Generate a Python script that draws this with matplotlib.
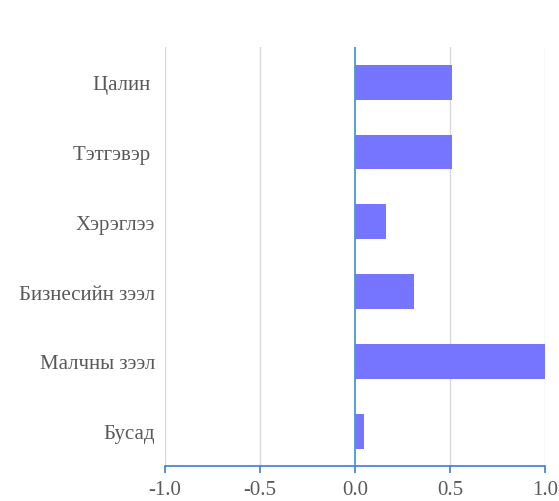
import matplotlib.pyplot as plt

categories = ['Цалин ', 'Тэтгэвэр ', 'Хэрэглээ', 'Бизнесийн зээл', 'Малчны зээл', 'Бусад']
values = [0.51, 0.51, 0.165, 0.31, 1.0, 0.045]
xticks = [-1.0, -0.5, 0.0, 0.5, 1.0]

plt.rcParams['font.family'] = ['Liberation Serif', 'DejaVu Serif']

fig = plt.figure(figsize=(5.59, 5.02), dpi=100)
ax = fig.add_axes([0.295, 0.0697, 0.68, 0.834])

ypos = list(range(len(categories)))
for x in xticks:
    if x != 0.0:
        ax.axvline(x, color='#d9d9d9', lw=1, zorder=0)
ax.barh(ypos, values, height=0.5, color='#7575ff', zorder=2)
ax.axvline(0, color='#4a97d6', lw=1.3, zorder=3)

ax.set_xlim(-1, 1)
ax.set_ylim(len(categories) - 0.5, -0.5)
ax.set_yticks(ypos)
ax.set_yticklabels(categories)
ax.set_xticks(xticks)
ax.set_xticklabels(['%.1f' % x for x in xticks])

for s in ['top', 'right', 'left']:
    ax.spines[s].set_visible(False)
ax.spines['bottom'].set_color('#3a7fc8')
ax.spines['bottom'].set_linewidth(1.2)
ax.tick_params(axis='y', length=0, pad=7, labelsize=15, labelcolor='#595959')
ax.tick_params(axis='x', direction='out', length=5, color='#3a7fc8', width=1.2,
               pad=5, labelsize=15, labelcolor='#595959')

fig.savefig('out.png', dpi=100)
